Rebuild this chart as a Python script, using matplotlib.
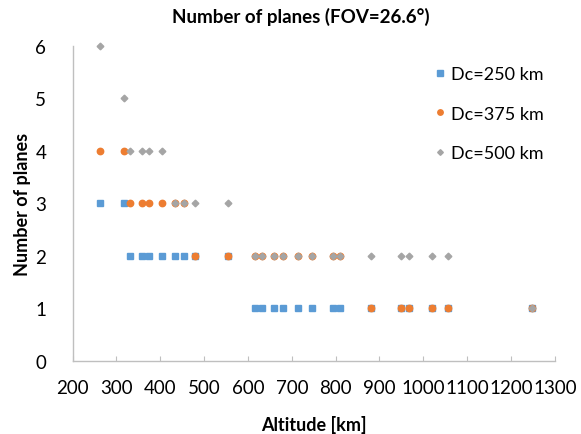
import matplotlib
matplotlib.use("Agg")
import matplotlib.pyplot as plt

# altitudes [km] shared by every series
altitude = [262, 318, 332, 358, 375, 403, 434, 454, 479, 555,
            616, 633, 660, 679, 713, 745, 794, 811,
            880, 950, 967, 1020, 1057, 1247]

# number of planes for each coverage diameter Dc
planes_250 = [3, 3, 2, 2, 2, 2, 2, 2, 2, 2,
              1, 1, 1, 1, 1, 1, 1, 1,
              1, 1, 1, 1, 1, 1]
planes_375 = [4, 4, 3, 3, 3, 3, 3, 3, 2, 2,
              2, 2, 2, 2, 2, 2, 2, 2,
              1, 1, 1, 1, 1, 1]
planes_500 = [6, 5, 4, 4, 4, 4, 3, 3, 3, 3,
              2, 2, 2, 2, 2, 2, 2, 2,
              2, 2, 2, 2, 2, 1]

series_labels = ["Dc=250 km", "Dc=375 km", "Dc=500 km"]
x_ticks = list(range(200, 1301, 100))
y_ticks = list(range(0, 7))

plt.rcParams['font.family'] = ['Lato', 'DejaVu Sans']

fig = plt.figure(figsize=(5.81, 4.35), dpi=100)
ax = fig.add_axes([0.125, 0.168, 0.830, 0.724])

ax.plot(altitude, planes_250, 's', ms=4.3, color='#5B9BD5', label=series_labels[0], clip_on=False)
ax.plot(altitude, planes_375, 'o', ms=4.6, color='#ED7D31', label=series_labels[1], clip_on=False)
ax.plot(altitude, planes_500, 'D', ms=3.4, color='#A5A5A5', label=series_labels[2], clip_on=False)

ax.set_xlim(200, 1300)
ax.set_ylim(0, 6)
ax.set_xticks(x_ticks)
ax.set_yticks(y_ticks)

for side in ['top', 'right']:
    ax.spines[side].set_visible(False)
for side in ['left', 'bottom']:
    ax.spines[side].set_color('#BFBFBF')
    ax.spines[side].set_linewidth(1.0)

ax.tick_params(axis='x', direction='in', length=3.5, color='#BFBFBF',
               labelsize=13.5, pad=13)
ax.tick_params(axis='y', length=0, labelsize=13.5, pad=19)

ax.set_xlabel("Altitude [km]", fontsize=13, fontweight='bold', labelpad=14)
ax.set_ylabel("Number of planes", fontsize=13, fontweight='bold', labelpad=3)
fig.text(0.517, 0.962, "Number of planes (FOV=26.6°)", ha='center', va='center',
         fontsize=13.5, fontweight='bold')

ax.legend(loc='upper left', bbox_to_anchor=(0.735, 0.862),
          bbox_transform=fig.transFigure, frameon=False, fontsize=13,
          handlelength=0.6, handletextpad=0.35, labelspacing=1.3,
          borderaxespad=0, markerscale=0.85)

fig.savefig("out.png", dpi=100)
